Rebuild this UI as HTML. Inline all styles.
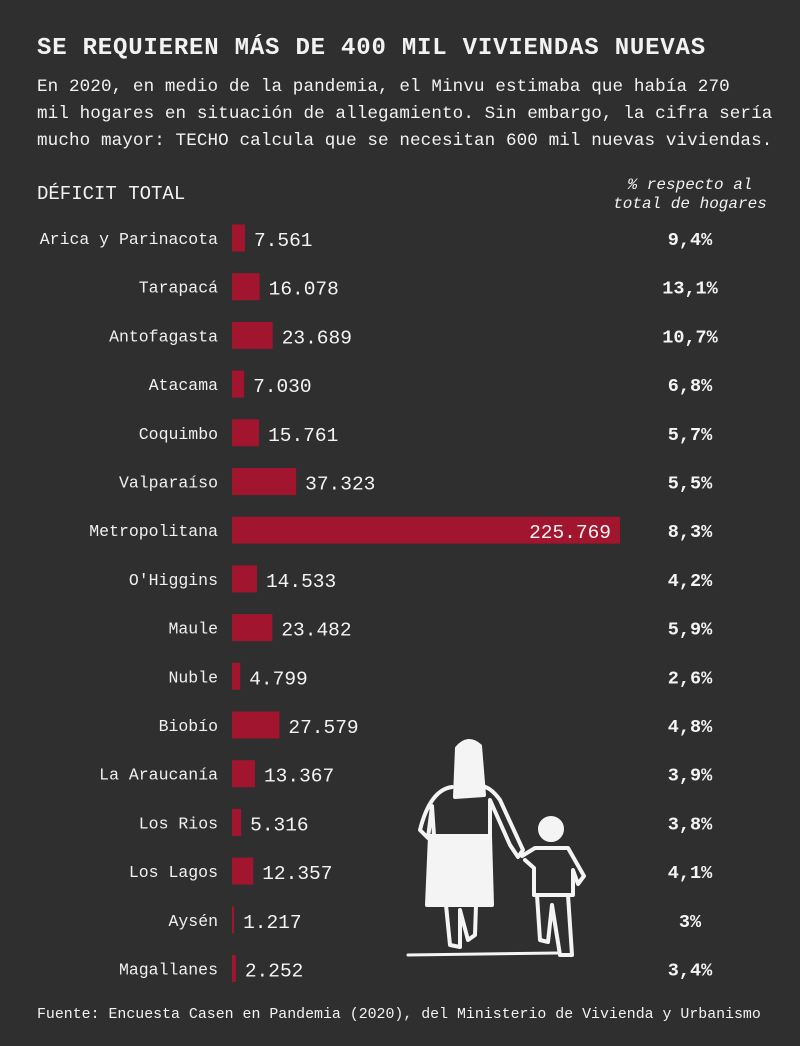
<!DOCTYPE html>
<html><head><meta charset="utf-8">
<style>
html,body{margin:0;padding:0;}
body{width:800px;height:1046px;background:#2f2f2f;overflow:hidden;position:relative;font-family:"Liberation Mono",monospace;color:#f2f2f2;}
.t{position:absolute;white-space:nowrap;}
</style></head>
<body>
<div class="t" style="left:37px;top:35px;font-size:24px;font-weight:bold;letter-spacing:0.8px;">SE REQUIEREN MÁS DE 400 MIL VIVIENDAS NUEVAS</div>
<div class="t" style="left:37px;top:74px;font-size:17.6px;line-height:27px;letter-spacing:0.1px;">En 2020, en medio de la pandemia, el Minvu estimaba que había 270<br>mil hogares en situación de allegamiento. Sin embargo, la cifra sería<br>mucho mayor: TECHO calcula que se necesitan 600 mil nuevas viviendas.</div>
<div class="t" style="left:37px;top:183px;font-size:19px;">DÉFICIT TOTAL</div>
<div class="t" style="left:590px;top:176px;width:200px;text-align:center;font-size:16px;font-style:italic;line-height:19px;">% respecto al<br>total de hogares</div>
<svg id="chart" width="800" height="1046" style="position:absolute;left:0;top:0;">
<g id="figure" fill="none" stroke="#f4f4f4" stroke-width="4" stroke-linecap="round" stroke-linejoin="round">
<path d="M455,797 L457,748 Q468,735 480,746 L484,795 Z" fill="#f4f4f4"/>
<path d="M452,787 Q430,790 420,830 L428,838 L432,806 L434,836 L490,836 L490,800 L510,845 L518,857 L523,850 L500,800 Q490,786 480,786"/>
<path d="M430,836 L427,905 L492,905 L490,836 Z" fill="#f4f4f4"/>
<path d="M446,905 L450,945 L460,947 L460,910 L468,940 L475,935 L476,905"/>
<circle cx="551" cy="829" r="11" fill="#f4f4f4"/>
<path d="M522,856 L535,848 L568,848 L584,876 L578,884 L573,870 L573,895 L534,895 L534,868 L525,860"/>
<path d="M537,895 L540,940 L548,942 L552,905 L560,955 L572,955 L568,895"/>
<path d="M408,955 L558,953" stroke-width="3"/>
</g>
</svg>
<div class="t" style="left:37px;top:1007px;font-size:14.9px;">Fuente: Encuesta Casen en Pandemia (2020), del Ministerio de Vivienda y Urbanismo</div>
<script>
const regions=["Arica y Parinacota","Tarapacá","Antofagasta","Atacama","Coquimbo","Valparaíso","Metropolitana","O'Higgins","Maule","Nuble","Biobío","La Araucanía","Los Rios","Los Lagos","Aysén","Magallanes"];
const deficit=[7561,16078,23689,7030,15761,37323,225769,14533,23482,4799,27579,13367,5316,12357,1217,2252];
const percentLabels=["9,4%","13,1%","10,7%","6,8%","5,7%","5,5%","8,3%","4,2%","5,9%","2,6%","4,8%","3,9%","3,8%","4,1%","3%","3,4%"];
const NS="http://www.w3.org/2000/svg";
const svg=document.getElementById('chart');
const x0=232, xScale=v=>v*(388/225769);
const yRow=i=>238+i*48.7;
const fmt=v=>v.toLocaleString('de-DE');
function mk(tag,attrs,txt){const e=document.createElementNS(NS,tag);for(const k in attrs)e.setAttribute(k,attrs[k]);if(txt!==undefined)e.textContent=txt;svg.appendChild(e);return e;}
regions.forEach((r,i)=>{
  const y=yRow(i), w=Math.max(2,xScale(deficit[i]));
  const lab=mk('text',{x:218,y:y+6,'text-anchor':'end','font-size':'16.5','fill':'#f0f0f0','font-family':'Liberation Mono, monospace'},r);
  
  
  const b=mk('rect',{x:x0,y:y-13.5,width:w,height:27,fill:'#a1152f'});
  
  
  const inside=w>150;
  const v=mk('text',{x:inside?x0+w-9:x0+w+9,y:y+8,'text-anchor':inside?'end':'start','font-size':'19.5','fill':'#f4f4f4','font-family':'Liberation Mono, monospace'},fmt(deficit[i]));
  
  
  const p=mk('text',{x:690,y:y+7,'text-anchor':'middle','font-size':'18.5','font-weight':'bold','fill':'#f4f4f4','font-family':'Liberation Mono, monospace'},percentLabels[i]);
  
  
});
</script>
</body></html>
